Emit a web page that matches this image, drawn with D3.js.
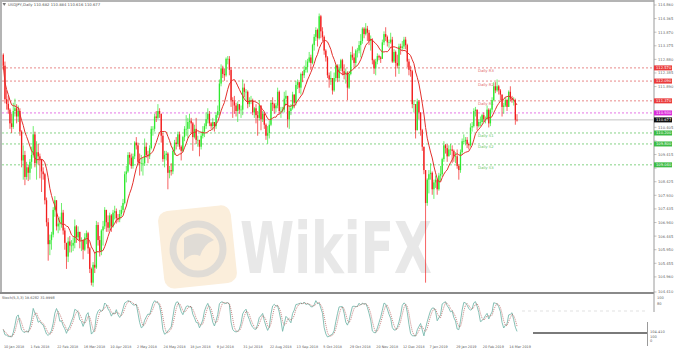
<!DOCTYPE html>
<html>
<head>
<meta charset="utf-8">
<script src="https://cdn.jsdelivr.net/npm/d3@7"></script>
<style>
  body { margin: 0; background: #fff; }
  svg { display: block; }
  text { font-family: "DejaVu Sans", sans-serif; }
</style>
</head>
<body>
<svg id="chart" width="680" height="356"></svg>
<script>
// USDJPY daily, 9 Jan 2018 .. 21 Mar 2019
const firstOpen = 113.05;
const closes = [
  112.65,111.43,111.26,111.05,110.55,110.42,111.00,111.10,110.80,111.00,
  110.25,109.20,109.40,108.60,108.95,108.75,109.15,109.40,110.15,109.10,
  109.50,109.35,109.25,108.80,108.70,107.75,106.95,106.15,106.30,106.50,
  107.40,107.75,106.80,106.90,106.90,107.30,106.65,106.20,105.70,106.25,
  106.10,106.10,106.20,106.80,106.40,106.60,106.30,106.30,105.95,106.40,
  106.55,106.00,105.25,104.75,105.40,105.30,106.85,106.30,105.90,106.65,
  106.80,107.40,106.95,106.75,107.20,106.80,107.30,107.35,107.10,107.05,
  107.25,107.40,107.65,108.70,108.80,109.40,109.30,109.00,109.35,109.85,
  109.75,109.15,109.10,109.10,109.10,109.70,109.40,109.35,109.65,110.35,
  110.35,110.80,110.75,111.00,110.90,110.10,109.25,109.40,109.45,108.75,
  108.85,108.80,109.55,109.85,109.80,110.15,109.70,109.55,110.05,110.35,
  110.35,110.60,110.65,110.55,110.05,110.35,109.95,109.95,109.70,110.10,
  110.25,110.45,110.70,110.90,110.55,110.45,110.60,110.45,110.85,111.00,
  112.00,112.55,112.35,112.30,112.90,112.90,112.50,111.40,111.35,111.20,
  111.00,111.25,111.05,111.05,111.85,111.70,111.70,111.25,111.40,111.40,
  110.95,111.10,110.85,110.75,111.20,110.70,110.90,110.50,110.10,110.20,
  110.50,111.30,111.25,111.10,111.20,111.70,111.00,111.00,111.05,111.45,
  111.55,110.70,111.00,111.10,111.60,111.30,111.95,112.05,111.85,112.35,
  112.30,112.50,112.60,112.80,112.95,112.75,113.40,113.70,113.95,113.65,
  114.45,113.90,113.70,113.20,112.95,112.30,112.15,112.20,111.75,112.20,
  112.65,112.20,112.55,112.85,112.45,112.35,112.40,111.85,112.35,113.05,
  112.95,112.75,113.20,113.20,113.40,113.55,114.00,113.80,114.00,113.85,
  113.55,113.60,112.85,112.55,112.80,113.00,112.95,112.90,113.50,113.80,
  113.70,113.50,113.50,113.60,112.80,113.15,112.75,112.65,113.35,113.30,
  113.35,113.60,113.40,112.80,112.50,112.45,111.25,111.25,110.30,111.35,
  110.95,110.30,109.70,108.85,107.65,108.50,108.70,108.75,108.15,108.40,
  108.50,108.15,108.65,108.70,109.25,109.75,109.65,109.35,109.60,109.60,
  109.55,109.35,109.35,109.00,108.85,109.50,109.90,109.90,109.95,109.80,
  109.75,110.40,110.45,111.00,111.05,110.45,110.60,110.60,110.85,110.70,
  110.70,111.05,110.55,111.05,111.40,111.90,111.75,111.90,111.75,111.60,
  111.15,111.20,111.40,111.15,111.70,111.45,111.40,111.40,110.68,110.677
];
const highs = [
  113.10,112.80,111.75,111.55,111.10,110.90,111.30,111.45,111.25,111.20,
  111.10,110.30,109.75,109.55,109.15,109.05,109.25,109.70,110.45,110.25,
  109.90,109.80,109.45,109.05,108.95,108.75,107.85,107.10,106.50,106.60,
  107.50,107.90,107.75,107.10,107.15,107.65,107.40,106.75,106.15,106.40,
  106.45,106.30,106.40,107.05,106.85,106.80,106.60,106.40,106.30,106.55,
  106.65,106.60,106.05,105.30,105.50,105.85,107.00,106.95,106.45,106.70,
  107.00,107.50,107.40,107.20,107.30,107.25,107.40,107.55,107.45,107.25,
  107.40,107.55,107.80,108.80,109.00,109.50,109.50,109.45,109.45,109.90,
  110.05,109.85,109.45,109.40,109.30,110.00,109.85,109.55,109.75,110.45,
  110.45,110.90,111.00,111.25,111.10,110.90,110.20,109.55,109.55,109.50,
  109.00,109.10,109.70,109.95,110.05,110.25,110.25,109.75,110.10,110.45,
  110.85,110.75,110.90,110.75,110.60,110.50,110.75,110.10,109.90,110.25,
  110.45,110.55,110.95,111.10,111.00,110.60,110.75,110.60,110.95,111.20,
  112.15,112.70,112.65,112.55,112.95,113.00,113.00,112.60,111.50,111.55,
  111.30,111.35,111.25,111.20,112.15,112.00,111.80,111.75,111.50,111.55,
  111.45,111.15,111.25,111.00,111.40,111.20,111.00,110.95,110.55,110.45,
  110.65,111.40,111.50,111.30,111.30,111.85,111.75,111.15,111.15,111.70,
  111.75,111.55,111.20,111.25,111.70,111.60,112.10,112.15,112.05,112.40,
  112.45,112.65,112.85,112.90,113.15,113.05,113.45,113.80,114.05,114.00,
  114.55,114.50,114.05,113.75,113.25,113.00,112.40,112.45,112.20,112.40,
  112.70,112.70,112.70,112.90,112.90,112.70,112.55,112.45,112.45,113.15,
  113.35,113.10,113.25,113.30,113.55,113.80,114.05,114.05,114.20,114.10,
  113.95,113.75,113.65,112.90,112.90,113.10,113.05,113.00,113.60,113.90,
  114.05,113.75,113.60,113.85,113.70,113.25,113.20,113.05,113.45,113.45,
  113.55,113.70,113.70,113.45,112.90,112.65,112.50,111.40,111.25,111.45,
  111.40,110.95,110.35,109.70,108.85,108.55,108.85,109.10,108.80,108.50,
  108.65,108.55,108.75,109.00,109.30,109.90,109.80,109.80,109.75,109.80,
  109.75,109.60,109.50,109.60,109.05,109.60,110.00,110.15,110.05,110.05,
  109.85,110.55,110.60,111.10,111.15,111.05,110.70,110.80,110.90,110.95,
  110.80,111.20,111.10,111.10,111.50,112.05,112.05,112.15,111.95,111.80,
  111.60,111.30,111.50,111.45,111.75,111.90,111.55,111.50,111.45,110.884
];
const lows = [
  112.50,111.28,111.05,110.90,110.35,110.20,110.35,110.80,110.55,110.60,
  110.10,108.95,108.50,108.30,108.50,108.45,108.50,108.90,109.30,108.95,
  108.50,109.05,108.55,108.05,108.50,107.60,106.80,105.55,105.75,105.95,
  106.40,107.15,106.65,106.55,106.65,106.75,106.50,105.95,105.25,105.50,
  105.85,105.85,105.90,106.00,106.20,106.30,106.00,105.90,105.60,105.90,
  106.15,105.80,105.10,104.65,104.60,105.10,105.25,106.10,105.70,105.75,
  106.10,106.70,106.60,106.60,106.65,106.60,106.75,107.05,106.90,106.95,
  106.95,107.15,107.30,107.60,108.40,108.75,109.05,108.90,108.90,109.25,
  109.60,109.05,108.65,108.80,108.65,109.00,109.30,109.10,109.25,109.60,
  110.10,110.25,110.60,110.70,110.75,109.85,109.15,108.95,109.20,108.15,
  108.55,108.65,108.70,109.40,109.60,109.70,109.60,109.20,109.50,109.90,
  110.10,110.00,110.35,110.20,109.55,110.00,109.80,109.70,109.35,109.60,
  110.00,110.05,110.35,110.55,110.45,110.35,110.30,110.25,110.35,110.75,
  110.85,111.90,112.20,112.10,112.25,112.70,112.30,111.15,110.75,110.90,
  110.80,110.60,110.90,110.75,110.85,111.50,111.40,111.10,111.15,111.25,
  110.85,110.75,110.55,110.10,110.65,110.30,110.60,110.35,109.95,109.80,
  110.00,110.45,111.00,110.90,110.95,111.10,110.90,110.75,110.95,110.95,
  111.25,110.40,110.35,110.85,111.05,111.10,111.20,111.80,111.65,111.60,
  112.05,112.20,112.40,112.40,112.75,112.50,112.70,113.20,113.55,113.35,
  113.60,113.65,113.55,113.05,112.80,112.20,111.85,111.95,111.60,111.70,
  112.10,112.05,112.10,112.45,112.30,112.15,112.00,111.40,111.80,112.30,
  112.85,112.55,112.60,112.95,113.10,112.95,113.45,113.65,113.75,113.55,
  113.40,113.20,112.70,112.35,112.30,112.70,112.85,112.75,112.90,113.40,
  113.55,113.35,113.30,113.45,112.75,112.75,112.25,112.55,112.35,113.05,
  113.20,113.25,113.25,112.60,112.30,112.25,111.10,110.95,110.00,110.30,
  110.70,110.10,109.55,108.70,104.75,107.55,108.00,108.50,107.95,107.80,
  108.20,107.95,108.10,108.45,108.60,109.15,109.45,109.15,109.35,109.40,
  109.10,109.15,109.10,108.90,108.50,108.75,109.40,109.80,109.75,109.65,
  109.60,109.70,110.25,110.40,110.80,110.30,110.40,110.45,110.50,110.60,
  110.55,110.70,110.40,110.45,110.95,111.35,111.65,111.70,111.60,111.40,
  110.80,110.90,111.15,111.00,111.15,111.35,111.30,111.20,110.50,110.616
];

const dateLabels = ["10 Jan 2018","1 Feb 2018","22 Feb 2018","16 Mar 2018","10 Apr 2018",
  "2 May 2018","24 May 2018","18 Jun 2018","9 Jul 2018","31 Jul 2018","22 Aug 2018",
  "13 Sep 2018","5 Oct 2018","29 Oct 2018","20 Nov 2018","12 Dec 2018","7 Jan 2019",
  "29 Jan 2019","20 Feb 2019","14 Mar 2019"];
const priceTicks = ["114.860","114.365","113.870","113.375","112.880","112.385","111.890",
  "111.395","110.900","110.405","109.910","109.415","108.920","108.425","107.930","107.435",
  "106.940","106.445","105.950","105.455","104.960","104.410"];

const pivotNames  = ["Daily R3","Daily R2","Daily R1","Daily PP","Daily S1","Daily S2","Daily S3"];
const pivotValues = [112.570, 112.090, 111.370, 110.930, 110.200, 109.800, 109.040];
const lastPrice = 110.677;
const titleText = "USDJPY,Daily  110.682 110.884 110.616 110.677";
const stochText = "Stoch(5,3,3) 19.6282 31.9998";

const maPeriod = 10, kPeriod = 5, slowing = 3, dPeriod = 3;

const svg = d3.select('#chart');
const axisX = 654;

const x = d3.scaleLinear().domain([0, closes.length - 1]).range([3.3, 3.3 + (closes.length - 1) * 1.6625]);
const y = d3.scaleLinear().domain([104.41, 114.86]).range([292, 5]);
const ys = d3.scaleLinear().domain([0, 100]).range([340, 298]);

const opens = closes.map((c, i) => i ? closes[i - 1] : firstOpen);

// indicators
const ma = closes.map((c, i) => d3.mean(closes.slice(Math.max(0, i - maPeriod + 1), i + 1)));
const ll = lows.map((l, i) => d3.min(lows.slice(Math.max(0, i - kPeriod + 1), i + 1)));
const hh = highs.map((h, i) => d3.max(highs.slice(Math.max(0, i - kPeriod + 1), i + 1)));
const stochK = closes.map((c, i) => {
  let num = 0, den = 0;
  for (let j = Math.max(0, i - slowing + 1); j <= i; j++) {
    num += closes[j] - ll[j];
    den += hh[j] - ll[j];
  }
  return den ? 100 * num / den : 50;
});
const stochD = stochK.map((k, i) => d3.mean(stochK.slice(Math.max(0, i - dPeriod + 1), i + 1)));

// frame
svg.append('rect').attr('x', 0).attr('y', 0).attr('width', axisX).attr('height', 2).attr('fill', '#b4b4b4');
svg.append('rect').attr('x', 0).attr('y', 0).attr('width', 2).attr('height', 294).attr('fill', '#b4b4b4');
svg.append('rect').attr('x', 0).attr('y', 292).attr('width', axisX).attr('height', 2).attr('fill', '#8a8a8a');
svg.append('line').attr('x1', axisX).attr('x2', axisX).attr('y1', 0).attr('y2', 312)
  .attr('stroke', '#9a9a9a').attr('stroke-width', 1);

// watermark
const wm = svg.append('g');
wm.append('rect').attr('x', 161).attr('y', 208).attr('width', 73).attr('height', 78).attr('rx', 10)
  .attr('fill', '#fbeedb').attr('transform', 'rotate(-6,197,247)');
wm.append('circle').attr('cx', 198).attr('cy', 249).attr('r', 25)
  .attr('fill', 'none').attr('stroke', '#e0dcd6').attr('stroke-width', 7);
wm.append('path').attr('d', 'M184,238 Q200,228 214,240 Q204,244 200,256 Q192,252 184,260 Z').attr('fill', '#e0dcd6');
wm.append('text').attr('x', 240).attr('y', 273).attr('font-size', 72).attr('font-weight', 700)
  .attr('font-family', '"Open Sans", sans-serif')
  .attr('textLength', 192).attr('lengthAdjust', 'spacingAndGlyphs')
  .attr('fill', '#e8e8e8').text('WikiFX');

// pivot lines
const pivotColor = n => n.includes('R') ? '#e26a6a' : n.includes('PP') ? '#e052e0' : '#66c766';
const boxColor = n => n.includes('R') ? '#ea3b3b' : n.includes('PP') ? '#d92ad9' : '#3dbb45';
svg.append('g').selectAll('line').data(pivotValues).join('line')
  .attr('x1', 2).attr('x2', axisX).attr('y1', d => y(d)).attr('y2', d => y(d))
  .attr('stroke', (d, i) => pivotColor(pivotNames[i])).attr('stroke-width', 0.8)
  .attr('stroke-dasharray', '2,2');
svg.append('g').selectAll('text').data(pivotNames.filter(n => !n.includes('PP'))).join('text')
  .attr('x', 478).attr('y', n => y(pivotValues[pivotNames.indexOf(n)]) + 4.5)
  .attr('font-size', 3.8).attr('fill', n => pivotColor(n)).text(n => n);

// bid line
svg.append('line').attr('x1', 2).attr('x2', axisX).attr('y1', y(lastPrice)).attr('y2', y(lastPrice))
  .attr('stroke', '#c4c4c4').attr('stroke-width', 1);

// candles
const bars = svg.append('g').selectAll('g').data(closes).join('g')
  .attr('fill', (c, i) => c >= opens[i] ? '#2fe82f' : '#f21d1d')
  .attr('stroke', (c, i) => c >= opens[i] ? '#2fe82f' : '#f21d1d');
bars.append('line')
  .attr('x1', (c, i) => x(i)).attr('x2', (c, i) => x(i))
  .attr('y1', (c, i) => y(Math.max(highs[i], c, opens[i])))
  .attr('y2', (c, i) => y(Math.min(lows[i], c, opens[i])))
  .attr('stroke-width', 0.7);
bars.append('rect')
  .attr('x', (c, i) => x(i) - 0.65).attr('width', 1.3)
  .attr('y', (c, i) => y(Math.max(c, opens[i])))
  .attr('height', (c, i) => Math.max(0.6, Math.abs(y(c) - y(opens[i]))))
  .attr('stroke', 'none');

// moving average
svg.append('path').datum(ma)
  .attr('fill', 'none').attr('stroke', '#e3302c').attr('stroke-width', 1)
  .attr('d', d3.line().x((d, i) => x(i)).y(d => y(d)));

// price axis (labels under a price box are covered, so leave them out)
const boxes = pivotValues.map((v, i) => ({ v, c: boxColor(pivotNames[i]) }))
  .concat([{ v: lastPrice, c: '#111' }]);
const freeTicks = priceTicks.filter(t => boxes.every(b => Math.abs(y(+t) - y(b.v)) > 3.5));
const tickG = svg.append('g');
tickG.selectAll('line').data(priceTicks).join('line')
  .attr('x1', axisX).attr('x2', axisX + 2.5).attr('y1', d => y(+d)).attr('y2', d => y(+d))
  .attr('stroke', '#999').attr('stroke-width', 0.6);
tickG.selectAll('text').data(freeTicks).join('text')
  .attr('x', axisX + 4).attr('y', d => y(+d) + 1.4).attr('font-size', 3.7).attr('fill', '#666').text(d => d);

// price boxes
const bx = svg.append('g').selectAll('g').data(boxes).join('g');
bx.append('rect').attr('x', axisX).attr('y', d => y(d.v) - 2.5).attr('width', 18).attr('height', 5).attr('fill', d => d.c);
bx.append('text').attr('x', axisX + 2).attr('y', d => y(d.v) + 1.3).attr('font-size', 3.7)
  .attr('fill', '#fff').text(d => d.v.toFixed(3));

// title
svg.append('path').attr('d', 'M2.5,3 L6,3 L4.25,6 Z').attr('fill', '#777');
svg.append('text').attr('x', 8).attr('y', 6).attr('font-size', 3.8).attr('fill', '#555').text(titleText);

// stochastic panel
svg.append('text').attr('x', 2).attr('y', 299).attr('font-size', 3.5).attr('fill', '#555').text(stochText);
svg.append('path').datum(stochK)
  .attr('fill', 'none').attr('stroke', '#78b9ad').attr('stroke-width', 0.9)
  .attr('d', d3.line().x((d, i) => x(i)).y(d => ys(d)));
svg.append('path').datum(stochD)
  .attr('fill', 'none').attr('stroke', '#b0504c').attr('stroke-width', 0.7).attr('stroke-dasharray', '1,1')
  .attr('d', d3.line().x((d, i) => x(i)).y(d => ys(d)));

// leftover window artefacts at the right of the lower panel
svg.append('line').attr('x1', 522).attr('x2', 647).attr('y1', 311).attr('y2', 311)
  .attr('stroke', '#d4d4d4').attr('stroke-width', 0.7).attr('stroke-dasharray', '3,3');
svg.append('rect').attr('x', 533).attr('y', 332).attr('width', 114).attr('height', 2).attr('fill', '#7a7a7a');
svg.append('line').attr('x1', 647.5).attr('x2', 647.5).attr('y1', 322).attr('y2', 346)
  .attr('stroke', '#9a9a9a').attr('stroke-width', 1);
svg.append('text').attr('x', axisX + 3).attr('y', 298.5).attr('font-size', 3.6).attr('fill', '#666').text('100');
svg.append('text').attr('x', axisX + 3).attr('y', 305).attr('font-size', 3.6).attr('fill', '#666').text('80');
svg.append('text').attr('x', 650).attr('y', 333).attr('font-size', 3.6).attr('fill', '#666').text('104.410');
svg.append('text').attr('x', 650).attr('y', 337.5).attr('font-size', 3.6).attr('fill', '#666').text('100');
svg.append('text').attr('x', 650).attr('y', 342).attr('font-size', 3.6).attr('fill', '#666').text('0');

// date axis
svg.append('g').selectAll('text').data(dateLabels).join('text')
  .attr('x', (d, i) => x(1 + 16 * i) - 1).attr('y', 347.5)
  .attr('font-size', 3.4).attr('fill', '#555').text(d => d);
</script>
</body>
</html>
